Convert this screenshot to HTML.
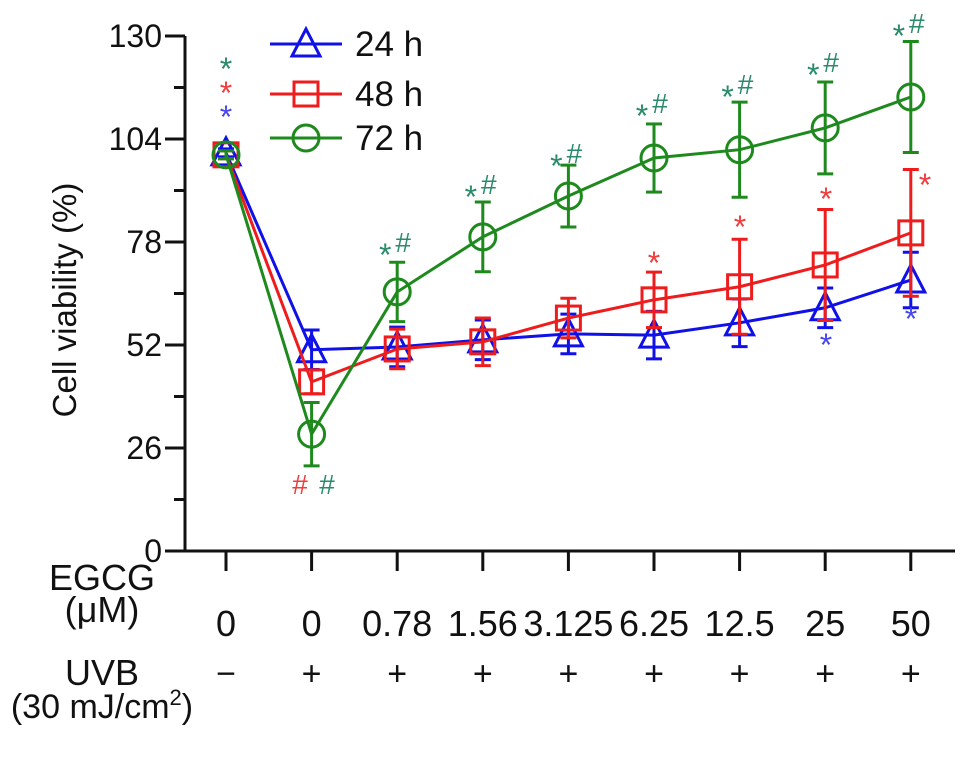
<!DOCTYPE html>
<html><head><meta charset="utf-8"><style>
body{margin:0;background:#fff}
svg{display:block;font-family:"Liberation Sans",sans-serif}
</style></head><body>
<svg id="chart" width="969" height="760" viewBox="0 0 969 760" xmlns="http://www.w3.org/2000/svg"></svg>
<script>
const categories=["0|−","0|+","0.78|+","1.56|+","3.125|+","6.25|+","12.5|+","25|+","50|+"];
const yTicks=[0,26,52,78,104,130];
const v24=[100.5,50.8,51.5,53.3,54.8,54.5,57.6,61.4,68.4];
const e24=[1,5,5,5,5,6,6,5,7];
const v48=[100,42.7,51,52.8,58.8,63.4,66.7,72.2,80.3];
const e48=[1,3,5,6,5,7,12,14,16];
const v72=[100,29.5,65.4,79.3,89.6,99.2,101.3,106.8,114.6];
const e72=[1,8,7.5,8.8,7.8,8.6,12,11.6,14];
const ns="http://www.w3.org/2000/svg";
const svg=document.getElementById('chart');
const x0=226,dx=85.6,yb=551,yt=36;
function X(i){return x0+i*dx;}
function Y(v){return yb-(v/130)*(yb-yt);}
function el(tag,attrs,parent){const e=document.createElementNS(ns,tag);for(const k in attrs)e.setAttribute(k,attrs[k]);(parent||svg).appendChild(e);return e;}
const SW=3;
let a=el('line',{x1:185,y1:yt,x2:185,y2:yb,stroke:'#111','stroke-width':SW});


a=el('line',{x1:165,y1:yb,x2:955,y2:yb,stroke:'#111','stroke-width':SW});


for(let k=0;k<yTicks.length;k++){
  const t=yTicks[k];
  el('line',{x1:165,y1:Y(t),x2:185,y2:Y(t),stroke:'#111','stroke-width':SW});
  const tx=el('text',{x:162,y:Y(t)+11,'text-anchor':'end','font-size':32,fill:'#111'});
  tx.textContent=t;
  
  
  if(k<yTicks.length-1) el('line',{x1:174,y1:Y(t+13),x2:185,y2:Y(t+13),stroke:'#111','stroke-width':SW});
}
for(let i=0;i<categories.length;i++){
  el('line',{x1:X(i),y1:yb,x2:X(i),y2:571,stroke:'#111','stroke-width':SW});
  const p=categories[i].split('|');
  const t1=el('text',{x:X(i),y:636,'text-anchor':'middle','font-size':36,fill:'#111'});
  t1.textContent=p[0];
  
  
  const t2=el('text',{x:X(i),y:685,'text-anchor':'middle','font-size':34,fill:'#111'});
  t2.textContent=p[1];
  
  
}
const yl=el('text',{x:0,y:0,transform:'translate(76,300) rotate(-90)','text-anchor':'middle','font-size':33,fill:'#111'});
yl.textContent='Cell viability (%)';


function txt(s,x,y,name,size){const t=el('text',{x:x,y:y,'text-anchor':'middle','font-size':size||36,fill:'#111'});t.innerHTML=s;return t;}
txt('EGCG',102,590,'egcg-label');
txt('(μM)',102,622,'egcg-unit');
txt('UVB',102,685,'uvb-title');
txt('(30 mJ/cm<tspan dy="-13" font-size="22">2</tspan><tspan dy="13">)</tspan>',102,718,'uvb-unit',34);
function marker(type,x,y,c,g){
  if(type==='tri') el('polygon',{points:`${x},${y-15} ${x-14},${y+12} ${x+14},${y+12}`,fill:'none',stroke:c,'stroke-width':SW},g);
  else if(type==='sq') el('rect',{x:x-12,y:y-12,width:24,height:24,fill:'none',stroke:c,'stroke-width':SW},g);
  else el('circle',{cx:x,cy:y,r:13,fill:'none',stroke:c,'stroke-width':SW},g);
}
function series(vals,errs,color,type,name){
  const g=el('g',{});
  
  
  for(let i=0;i<vals.length;i++){
    const x=X(i),y1=Y(vals[i]+errs[i]),y2=Y(vals[i]-errs[i]);
    el('line',{x1:x,y1:y1,x2:x,y2:y2,stroke:color,'stroke-width':SW},g);
    el('line',{x1:x-8,y1:y1,x2:x+8,y2:y1,stroke:color,'stroke-width':SW},g);
    el('line',{x1:x-8,y1:y2,x2:x+8,y2:y2,stroke:color,'stroke-width':SW},g);
  }
  el('polyline',{points:vals.map((v,i)=>X(i)+','+Y(v)).join(' '),fill:'none',stroke:color,'stroke-width':SW},g);
  for(let i=0;i<vals.length;i++) marker(type,X(i),Y(vals[i]),color,g);
}
series(v24,e24,'#1010e8','tri','series-24h');
series(v48,e48,'#ee1c1c','sq','series-48h');
series(v72,e72,'#1e8a1e','circ','series-72h');
const leg=[['24 h','#1010e8','tri',44],['48 h','#ee1c1c','sq',94],['72 h','#1e8a1e','circ',138]];
for(const l of leg){
  const g=el('g',{});
  
  
  el('line',{x1:270,y1:l[3],x2:342,y2:l[3],stroke:l[1],'stroke-width':SW},g);
  marker(l[2],306,l[3],l[1],g);
  const t=el('text',{x:355,y:l[3]+12,'font-size':35,fill:'#111'},g);
  t.textContent=l[0];
}
const G='#2a8a6a',R='#f03c3c',B='#4646f0';
function ann(s,x,y,c,sz){const t=el('text',{x:x,y:y,'text-anchor':'middle','font-size':sz,fill:c});t.textContent=s;}
ann('*',226,80,G,32);ann('*',226,104,R,32);ann('*',226,128,B,32);
ann('#',300,494,R,28);ann('#',327,494,G,28);
const gy=[null,null,252,194,163,113,94,72,33];
for(let i=2;i<9;i++){ann('*',X(i)-12,gy[i]+14,G,32);ann('#',X(i)+6,gy[i],G,28);}
ann('*',654,274,R,32);ann('*',740,238,R,32);ann('*',826,210,R,32);ann('*',925,196,R,32);
ann('*',826,356,B,32);ann('*',911,330,B,32);
</script>
</body></html>
